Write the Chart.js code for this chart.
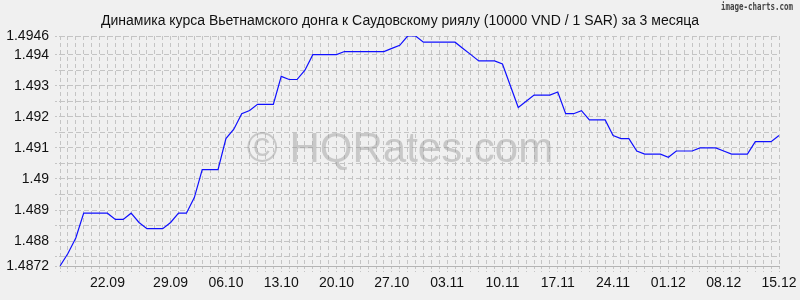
<!DOCTYPE html>
<html>
<head>
<meta charset="utf-8">
<script src="https://cdn.jsdelivr.net/npm/chart.js@4"></script>
<style>
  html, body { margin: 0; padding: 0; background: #f0f0f0; }
  canvas { display: block; }
</style>
</head>
<body>
<canvas id="rateChart" width="800" height="300"></canvas>
<script>
const TITLE = 'Динамика курса Вьетнамского донга к Саудовскому риялу (10000 VND / 1 SAR) за 3 месяца';
const WATERMARK = '© HQRates.com';
const CREDIT = 'image-charts.com';

// x tick labels and the point index they sit under
const xLabels = ['22.09', '29.09', '06.10', '13.10', '20.10', '27.10', '03.11', '10.11', '17.11', '24.11', '01.12', '08.12', '15.12'];
const xLabelIdx = [6, 14, 21, 28, 35, 42, 49, 56, 63, 70, 77, 84, 91];

// 10000 VND in SAR, one value per point
const rates = [
  1.4872, 1.4876, 1.4881, 1.4889, 1.4889, 1.4889, 1.4889, 1.4887, 1.4887, 1.4889,
  1.4886, 1.4884, 1.4884, 1.4884, 1.4886, 1.4889, 1.4889, 1.4894, 1.4903, 1.4903,
  1.4903, 1.4913, 1.4916, 1.4921, 1.4922, 1.4924, 1.4924, 1.4924, 1.4933, 1.4932,
  1.4932, 1.4935, 1.4940, 1.4940, 1.4940, 1.4940, 1.4941, 1.4941, 1.4941, 1.4941,
  1.4941, 1.4941, 1.4942, 1.4943, 1.4946, 1.4946, 1.4944, 1.4944, 1.4944, 1.4944,
  1.4944, 1.4942, 1.4940, 1.4938, 1.4938, 1.4938, 1.4937, 1.4930, 1.4923, 1.4925,
  1.4927, 1.4927, 1.4927, 1.4928, 1.4921, 1.4921, 1.4922, 1.4919, 1.4919, 1.4919,
  1.4914, 1.4913, 1.4913, 1.4909, 1.4908, 1.4908, 1.4908, 1.4907, 1.4909, 1.4909,
  1.4909, 1.4910, 1.4910, 1.4910, 1.4909, 1.4908, 1.4908, 1.4908, 1.4912, 1.4912,
  1.4912, 1.4914
];

const yMin = 1.4872;
const yMax = 1.4946;
// grid lines, and the ones that carry a label
const yGrid = [1.4872, 1.4875, 1.488, 1.4885, 1.489, 1.4895, 1.49, 1.4905, 1.491, 1.4915, 1.492, 1.4925, 1.493, 1.4935, 1.494, 1.4946];
const yLabelled = [1.4872, 1.488, 1.489, 1.49, 1.491, 1.492, 1.493, 1.494, 1.4946];

const categories = rates.map((_, i) => {
  const k = xLabelIdx.indexOf(i);
  return k >= 0 ? xLabels[k] : '';
});

const FONT = '"Liberation Sans", Arial, sans-serif';
const GRID = '#c4c4c4';

const decor = {
  id: 'decor',
  beforeDraw(chart) {
    const { ctx } = chart;
    ctx.save();
    ctx.fillStyle = '#f0f0f0';
    ctx.fillRect(0, 0, chart.width, chart.height);
    ctx.fillStyle = '#111';
    ctx.font = '14px ' + FONT;
    ctx.textAlign = 'center';
    ctx.textBaseline = 'alphabetic';
    ctx.fillText(TITLE, 400, 25);
    ctx.fillStyle = '#444';
    ctx.font = 'bold 10px "DejaVu Sans Mono", monospace';
    ctx.textAlign = 'right';
    ctx.fillText(CREDIT, 793, 10, 72);
    ctx.restore();
  },
  beforeDatasetsDraw(chart) {
    const { ctx } = chart;
    ctx.save();
    ctx.fillStyle = 'rgba(150,150,150,0.45)';
    ctx.font = '42px ' + FONT;
    ctx.textAlign = 'center';
    ctx.textBaseline = 'alphabetic';
    ctx.fillText(WATERMARK, 400, 162);
    ctx.restore();
  }
};

new Chart(document.getElementById('rateChart'), {
  type: 'line',
  data: {
    labels: categories,
    datasets: [{
      data: rates,
      borderColor: '#1010ff',
      borderWidth: 1.2,
      pointRadius: 0,
      tension: 0,
      fill: false,
    }],
  },
  options: {
    responsive: false,
    animation: false,
    devicePixelRatio: 1,
    layout: { padding: { top: 36, right: 21, left: 0, bottom: 0 } },
    plugins: {
      legend: { display: false },
      tooltip: { enabled: false },
    },
    scales: {
      x: {
        type: 'category',
        offset: false,
        afterFit: (s) => { s.height = 34; },
        grid: { color: GRID, lineWidth: 1, offset: false, tickLength: 6, tickBorderDash: [2, 2] },
        border: { display: true, color: '#b4b4b4', dash: [4, 3] },
        ticks: {
          autoSkip: false,
          maxRotation: 0,
          minRotation: 0,
          padding: 3,
          color: '#111',
          font: { size: 14, family: FONT },
        },
      },
      y: {
        min: yMin,
        max: yMax,
        afterFit: (s) => { s.width = 60; },
        afterBuildTicks: (s) => { s.ticks = yGrid.map((v) => ({ value: v })); },
        grid: { color: GRID, lineWidth: 1, tickLength: 5, tickBorderDash: [2, 2] },
        border: { display: false, dash: [5, 3] },
        ticks: {
          autoSkip: false,
          padding: 6,
          color: '#111',
          font: { size: 14, family: FONT },
          callback: (v) => yLabelled.some((t) => Math.abs(t - v) < 1e-7) ? String(+v.toFixed(4)) : '',
        },
      },
    },
  },
  plugins: [decor],
});
</script>
</body>
</html>
